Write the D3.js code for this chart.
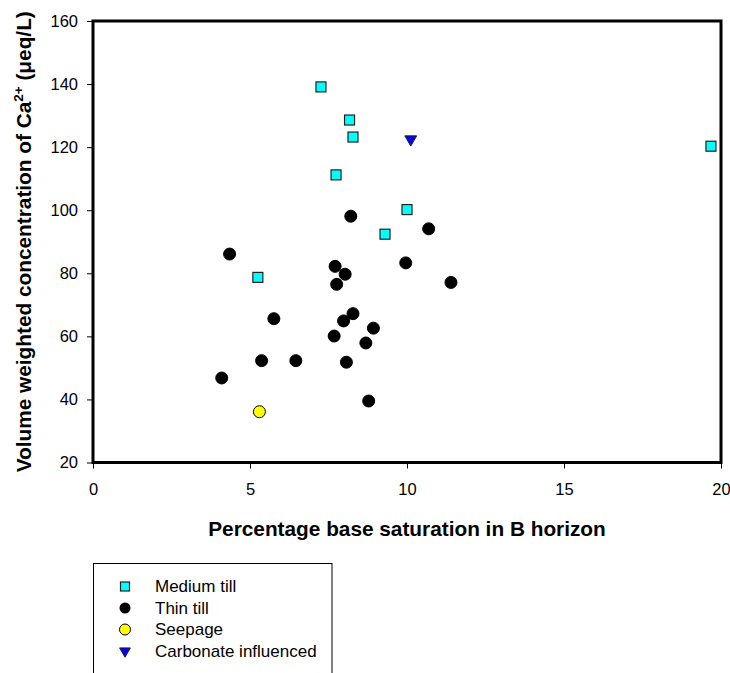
<!DOCTYPE html>
<html><head><meta charset="utf-8">
<script src="https://cdn.jsdelivr.net/npm/d3@7"></script>
<style>body{margin:0;background:#fff}svg{display:block}text{font-family:"Liberation Sans",Arial,sans-serif}</style>
</head><body>
<script>
const xTicks = [0, 5, 10, 15, 20];
const yTicks = [20, 40, 60, 80, 100, 120, 140, 160];
const mediumTill = [[7.26,139.1],[8.17,128.6],[8.28,123.2],[7.74,111.2],[10.0,100.2],[9.30,92.4],[5.25,78.7],[19.68,120.3]];
const thinTill = [[8.21,98.1],[10.69,94.1],[4.35,86.1],[7.71,82.2],[8.03,79.7],[7.76,76.5],[9.96,83.3],[11.40,77.1],[5.76,65.6],[8.28,67.2],[7.98,64.9],[8.93,62.6],[7.68,60.1],[8.69,57.9],[5.37,52.3],[6.46,52.3],[8.07,51.8],[4.10,46.8],[8.78,39.5]];
const seepage = [[5.30,36.1]];
const carbonate = [[10.12,122.5]];
const legendLabels = ["Medium till","Thin till","Seepage","Carbonate influenced"];

const W = 730, H = 673;
const L = 93, R = 721, T = 21, B = 462.5;
const FONT = "'Liberation Sans',Arial,sans-serif";
const svg = d3.select("body").append("svg").attr("width", W).attr("height", H);
const x = d3.scaleLinear().domain([0,20]).range([L,R]);
const y = d3.scaleLinear().domain([20,160]).range([B,T]);

// axes
const xa = svg.append("g").attr("transform",`translate(0,${B})`)
  .call(d3.axisBottom(x).tickValues(xTicks).tickSize(6).tickPadding(15).tickFormat(d3.format("d")));
const ya = svg.append("g").attr("transform",`translate(${L},0)`)
  .call(d3.axisLeft(y).tickValues(yTicks).tickSize(6).tickPadding(9).tickFormat(d3.format("d")));
[xa,ya].forEach(a=>{
  a.select(".domain").remove();
  a.selectAll("text").attr("font-size",16.5).attr("fill","#000").style("font-family",FONT);
  a.selectAll("line").attr("stroke","#000").attr("stroke-width",1);
});
// frame
svg.append("rect").attr("x",L).attr("y",T).attr("width",R-L).attr("height",B-T)
  .attr("fill","none").attr("stroke","#000").attr("stroke-width",3);

// titles
svg.append("text").attr("x",(L+R)/2).attr("y",536).attr("text-anchor","middle")
  .attr("font-size",20.8).attr("font-weight","bold").text("Percentage base saturation in B horizon");
const yt = svg.append("text").attr("transform",`translate(31,${(T+B)/2}) rotate(-90)`)
  .attr("text-anchor","middle").attr("font-size",20.8).attr("font-weight","bold");
yt.append("tspan").text("Volume weighted concentration of Ca");
yt.append("tspan").attr("dy",-8).attr("font-size",13.5).text("2+");
yt.append("tspan").attr("dy",8).text(" (\u03BCeq/L)");

// markers
function drawSquares(g, data){
  g.selectAll(null).data(data).join("rect")
    .attr("x",d=>x(d[0])-5).attr("y",d=>y(d[1])-5).attr("width",10).attr("height",10)
    .attr("fill","#00FFFF").attr("stroke","#222").attr("stroke-width",1.2);
}
function drawCircles(g, data, fill){
  g.selectAll(null).data(data).join("circle")
    .attr("cx",d=>x(d[0])).attr("cy",d=>y(d[1])).attr("r",6)
    .attr("fill",fill).attr("stroke","#000").attr("stroke-width",1);
}
const tri = d3.symbol().type(d3.symbolTriangle).size(60);
function drawTriangles(g, data){
  g.selectAll(null).data(data).join("path")
    .attr("d",tri).attr("transform",d=>`translate(${x(d[0])},${y(d[1])}) rotate(180)`)
    .attr("fill","#0000FF").attr("stroke","#222").attr("stroke-width",1);
}
const pg = svg.append("g");
drawCircles(pg, thinTill, "#000");
drawCircles(pg, seepage, "#FFFF00");
drawSquares(pg, mediumTill);
drawTriangles(pg, carbonate);

// legend
const lg = svg.append("g");
lg.append("rect").attr("x",93.5).attr("y",563.5).attr("width",238.5).attr("height",130)
  .attr("fill","none").attr("stroke","#000").attr("stroke-width",1);
const ly = i => 586.5 + i*21.5;
legendLabels.forEach((t,i)=>{
  lg.append("text").attr("x",155).attr("y",ly(i)+5.5).attr("font-size",17).text(t);
});
const mx = 125;
lg.append("rect").attr("x",mx-4.5).attr("y",ly(0)-4.5).attr("width",9).attr("height",9)
  .attr("fill","#00FFFF").attr("stroke","#222").attr("stroke-width",1.2);
lg.append("circle").attr("cx",mx).attr("cy",ly(1)).attr("r",5.5).attr("fill","#000");
lg.append("circle").attr("cx",mx).attr("cy",ly(2)).attr("r",5.5).attr("fill","#FFFF00").attr("stroke","#000");
lg.append("path").attr("d",d3.symbol().type(d3.symbolTriangle).size(50))
  .attr("transform",`translate(${mx},${ly(3)}) rotate(180)`).attr("fill","#0000FF").attr("stroke","#222");
</script>
</body></html>
